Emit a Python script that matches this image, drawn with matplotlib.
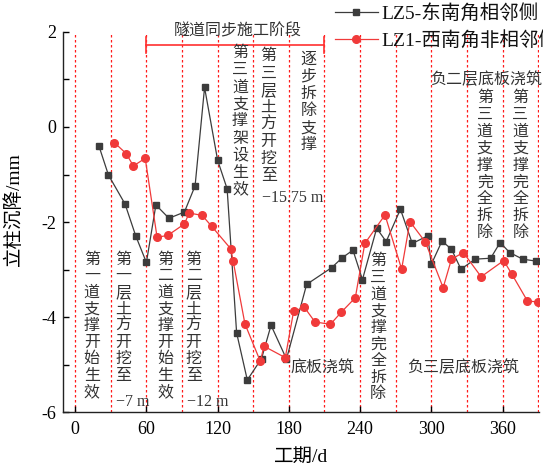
import matplotlib
matplotlib.use("Agg")
import matplotlib.pyplot as plt
from matplotlib.lines import Line2D

plt.rcParams['font.family'] = ['Liberation Serif', 'Noto Sans CJK SC']
plt.rcParams['axes.unicode_minus'] = False

# ---- data ----
black_days = [20, 28, 42, 51, 60, 68, 79, 92, 101, 109, 120, 128, 136, 145, 157, 165, 178,
              195, 216, 225, 234, 242, 254, 262, 274, 284, 297, 300, 309, 317, 325, 337,
              350, 358, 366, 377, 388]
black_vals = [-0.40, -1.01, -1.62, -2.29, -2.85, -1.64, -1.92, -1.79, -1.24, 0.83, -0.70,
              -1.30, -4.33, -5.32, -4.87, -4.17, -4.88, -3.31, -2.96, -2.75, -2.59, -3.21,
              -2.13, -2.41, -1.73, -2.45, -2.29, -2.89, -2.40, -2.57, -2.99, -2.78, -2.76,
              -2.43, -2.64, -2.78, -2.82]
red_days = [33, 43, 49, 59, 69, 78, 92, 96, 107, 115, 131, 133, 143, 156, 159, 177, 184,
            193, 202, 215, 224, 236, 244, 261, 275, 282, 295, 310, 317, 327, 342, 361, 368,
            381, 390]
red_vals = [-0.33, -0.56, -0.82, -0.66, -2.32, -2.28, -2.04, -1.81, -1.86, -2.09, -2.56,
            -2.81, -4.14, -4.93, -4.61, -4.85, -3.88, -3.79, -4.10, -4.15, -3.90, -3.59,
            -2.45, -1.85, -2.99, -1.99, -2.42, -3.38, -2.78, -2.64, -3.15, -2.81, -3.10,
            -3.66, -3.68]
series_labels = ['LZ5-东南角相邻侧', 'LZ1-西南角非相邻侧']
stage_days = [0, 30, 60, 90, 120, 150, 180, 210, 240, 270, 300, 330, 360, 390]
x_ticks = [0, 60, 120, 180, 240, 300, 360]
y_ticks = [-6, -4, -2, 0, 2]

BLACK = '#3c3c3c'
RED = '#f03a3a'

fig = plt.figure(figsize=(5.43, 4.68), dpi=100)
ax = fig.add_axes([0.1166, 0.119, 0.8766, 0.813])

for d in stage_days:
    ax.axvline(d, color='#ff1a1a', lw=0.9, ls=(0, (2, 2)), zorder=1)

ax.plot(black_days, black_vals, color=BLACK, lw=0.9, marker='s', ms=4.5,
        mfc=BLACK, mec=BLACK, zorder=3, label=series_labels[0])
ax.plot(red_days, red_vals, color=RED, lw=0.9, marker='o', ms=5.5,
        mfc=RED, mec=RED, zorder=3, label=series_labels[1])

ax.set_xlim(-10, 391)
ax.set_ylim(-6, 2)
ax.set_xticks(x_ticks)
ax.set_yticks(y_ticks)
ax.set_yticks([-5, -3, -1, 1], minor=True)
ax.tick_params(axis='both', which='both', direction='in', length=4, width=1,
               labelsize=13)
ax.tick_params(axis='x', pad=6)
ax.tick_params(axis='y', pad=5)
for s in ['top', 'right']:
    ax.spines[s].set_visible(False)
for s in ['left', 'bottom']:
    ax.spines[s].set_linewidth(1.0)
    ax.spines[s].set_color('#222222')

ax.set_xlabel('工期/d', fontsize=14)
ax.set_ylabel('立柱沉降/mm', fontsize=14)
ax.xaxis.set_label_coords(0.5, -0.096)
ax.yaxis.set_label_coords(-0.085, 0.534)

# bracket for tunnel stage
ax.plot([60, 210], [1.72, 1.72], color='#ff3030', lw=1.2, zorder=2)
ax.plot([210, 210], [1.55, 1.89], color='#ff3030', lw=1.2, zorder=2)
ax.plot([60, 60], [1.55, 1.89], color='#ff3030', lw=1.2, zorder=2)
ax.text(136.8, 2.0, '隧道同步施工阶段', fontsize=11.5, ha='center', va='center',
        color='#333333')

TC = '#333333'
FS = 11.5


def vtext(x, y, chars, ls=1.05):
    ax.text(x, y, '\n'.join(chars), fontsize=FS, ha='center', va='top',
            multialignment='center', linespacing=ls, color=TC, zorder=4)


def htext(x, y, s, ha='center'):
    ax.text(x, y, s, fontsize=FS, ha=ha, va='center', color=TC, zorder=4)


vtext(14, -2.62, '第一道支撑开始生效')
vtext(40.7, -2.62, '第一层土方开挖至')
htext(34.0, -5.78, '−7 m', ha='left')
vtext(75.8, -2.62, '第二道支撑开始生效')
vtext(99.8, -2.62, '第二层土方开挖至')
htext(93.8, -5.78, '−12 m', ha='left')
vtext(138.9, 1.72, '第三道支撑架设生效', ls=1.09)
vtext(163.0, 1.65, '第三层土方开挖至', ls=1.09)
htext(157.0, -1.5, '−15.75 m', ha='left')
vtext(196.4, 1.58, '逐步拆除支撑', ls=1.09)
vtext(255.3, -2.66, '第三道支撑完全拆除')
vtext(345.1, 0.77, '第三道支撑完全拆除', ls=1.07)
vtext(375.1, 0.77, '第三道支撑完全拆除', ls=1.07)
htext(208, -5.08, '底板浇筑')
htext(326.9, -5.08, '负三层底板浇筑')
htext(345.8, 0.98, '负二层底板浇筑')

handles = [Line2D([], [], color=BLACK, lw=0.9, marker='s', ms=4.5),
           Line2D([], [], color=RED, lw=0.9, marker='o', ms=5.5)]
leg = ax.legend(handles, series_labels, loc='upper left', bbox_to_anchor=(0.617, 0.992),
                bbox_transform=fig.transFigure, frameon=False, fontsize=14,
                borderpad=0, borderaxespad=0, handlelength=2.2, handletextpad=0.2,
                labelspacing=0.4)
for t in leg.get_texts():
    t.set_color('#111111')

fig.savefig('out.png', dpi=100)
